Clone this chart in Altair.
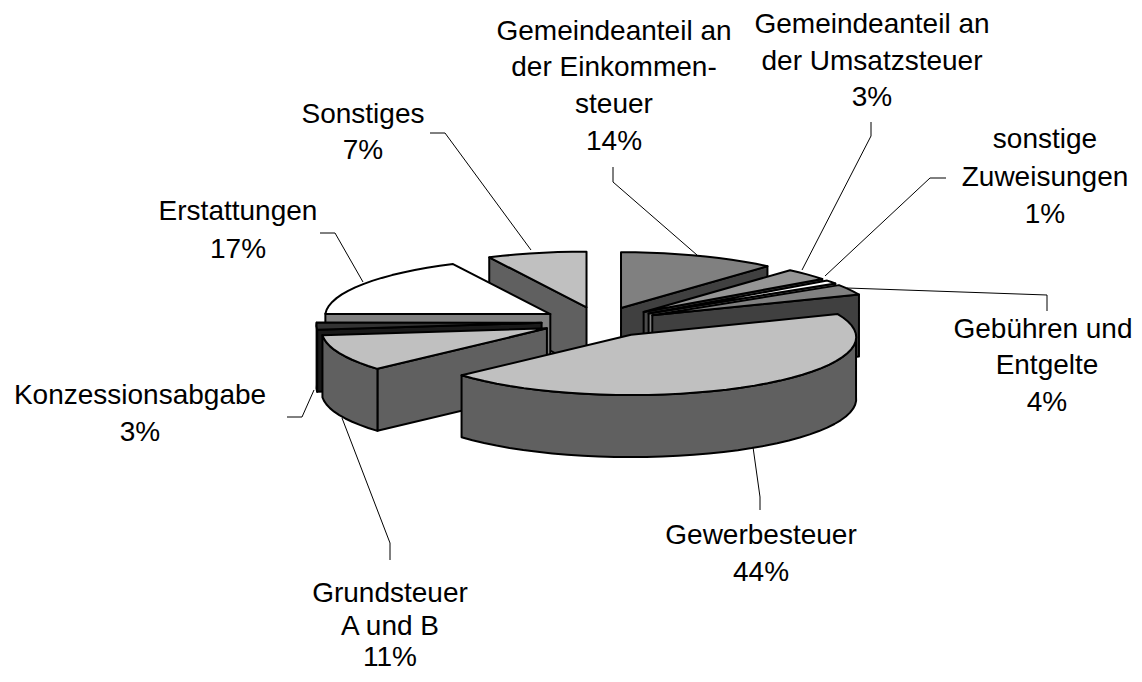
import math
import altair as alt

W, H = 1126, 666

names = ["Einkommen", "Umsatz", "Zuweisungen", "Gebuehren", "Gewerbe", "Grund", "Konzession", "Erstattungen", "Sonstiges"]
shares = [11.7, 3.4, 1.0, 3.0, 44.0, 10.0, 2.0, 17.5, 7.4]
top_fill = ["#808080", "#969696", "#ffffff", "#808080", "#c0c0c0", "#c0c0c0", "#333333", "#ffffff", "#c0c0c0"]
wall_fill = ["#404040", "#4b4b4b", "#808080", "#404040", "#606060", "#606060", "#1a1a1a", "#808080", "#606060"]
paint_order = [8, 0, 7, 6, 5, 1, 2, 3, 4]

# Pie geometry
CX, CY, RX, RY, DEPTH, EXPLODE, PERSPECTIVE = 600, 322, 225, 58, 62, 0.26, 0.04

label_rows = [
    ("Gemeindeanteil an", 614, 32), ("der Einkommen-", 614, 68), ("steuer", 614, 105), ("14%", 614, 142),
    ("Gemeindeanteil an", 872, 25), ("der Umsatzsteuer", 872, 62), ("3%", 872, 98),
    ("sonstige", 1045, 140), ("Zuweisungen", 1045, 178), ("1%", 1045, 215),
    ("Gebühren und", 1043, 330), ("Entgelte", 1047, 366), ("4%", 1047, 403),
    ("Gewerbesteuer", 761, 536), ("44%", 761, 573),
    ("Grundsteuer", 390, 594), ("A und B", 390, 627), ("11%", 390, 658),
    ("Konzessionsabgabe", 140, 396), ("3%", 140, 433),
    ("Erstattungen", 238, 212), ("17%", 238, 250),
    ("Sonstiges", 363, 115), ("7%", 363, 151),
]

leaders = [
    [(430, 133), (445, 133), (531, 250)],
    [(613, 167), (613, 182), (697, 255)],
    [(871, 122), (871, 136), (802, 270)],
    [(946, 178), (930, 178), (825, 276)],
    [(1047, 311), (1047, 295), (847, 288)],
    [(760, 510), (760, 497), (753, 447)],
    [(390, 560), (390, 543), (342, 418)],
    [(287, 417), (302, 417), (314, 390)],
    [(320, 233), (335, 233), (363, 282)],
]

total = sum(shares)
starts, ends, c = [], [], -90.0
for s in shares:
    starts.append(c)
    c += 360 * s / total
    ends.append(c)


def rim(ax, ay, deg, dy=0.0):
    r = math.radians(deg)
    k = 1 + PERSPECTIVE * math.sin(r)
    return [ax + RX * k * math.cos(r), ay + dy + RY * k * math.sin(r)]


def arc(ax, ay, a1, a2, dy=0.0):
    n = max(2, int(abs(a2 - a1) / 4) + 1)
    return [rim(ax, ay, a1 + (a2 - a1) * i / n, dy) for i in range(n + 1)]


def feature(points, fill):
    return {
        "type": "Feature",
        "properties": {"f": fill},
        "geometry": {"type": "Polygon", "coordinates": [points + [points[0]]]},
    }


features = []
for i in paint_order:
    a1, a2 = starts[i], ends[i]
    mid = math.radians((a1 + a2) / 2)
    ax = CX + EXPLODE * RX * math.cos(mid)
    ay = CY + EXPLODE * RY * math.sin(mid)
    top = arc(ax, ay, a1, a2)
    wall, face = wall_fill[i], top_fill[i]
    if -math.cos(math.radians(a1)) > 0:
        p = top[0]
        features.append(feature([[ax, ay], p, [p[0], p[1] + DEPTH], [ax, ay + DEPTH]], wall))
    if math.cos(math.radians(a2)) > 0:
        p = top[-1]
        features.append(feature([[ax, ay], p, [p[0], p[1] + DEPTH], [ax, ay + DEPTH]], wall))
    f1, f2 = max(a1, 0), min(a2, 180)
    if f2 > f1:
        features.append(feature(arc(ax, ay, f1, f2) + arc(ax, ay, f2, f1, DEPTH), wall))
    features.append(feature([[ax, ay]] + top, face))

x_scale = alt.Scale(domain=[8, 8 + W], range=[0, W])
y_scale = alt.Scale(domain=[8, 8 + H], range=[0, H])

pie = (
    alt.Chart(alt.Data(values=features))
    .mark_geoshape(stroke="#000000", strokeWidth=2, strokeJoin="round")
    .encode(fill=alt.Fill("properties.f:N", scale=None))
    .project(type="identity", scale=1, translate=[-8, -8])
)

leader_rows = [
    {"id": k, "o": j, "x": p[0], "y": p[1]} for k, line in enumerate(leaders) for j, p in enumerate(line)
]
lines = (
    alt.Chart(alt.Data(values=leader_rows))
    .mark_line(color="#000000", strokeWidth=1)
    .encode(
        x=alt.X("x:Q", scale=x_scale, axis=None),
        y=alt.Y("y:Q", scale=y_scale, axis=None),
        detail="id:N",
        order="o:Q",
    )
)

labels = (
    alt.Chart(alt.Data(values=[{"t": t, "x": x, "y": y} for t, x, y in label_rows]))
    .mark_text(font="Liberation Sans", fontSize=28, color="#000000", align="center", baseline="middle")
    .encode(
        x=alt.X("x:Q", scale=x_scale, axis=None),
        y=alt.Y("y:Q", scale=y_scale, axis=None),
        text="t:N",
    )
)

chart = (
    alt.layer(lines, pie, labels)
    .properties(width=W, height=H, padding=0, autosize=alt.AutoSizeParams(type="none"))
    .configure_view(stroke=None)
)

chart.save("out.html", embed_options={"renderer": "svg", "actions": False})
